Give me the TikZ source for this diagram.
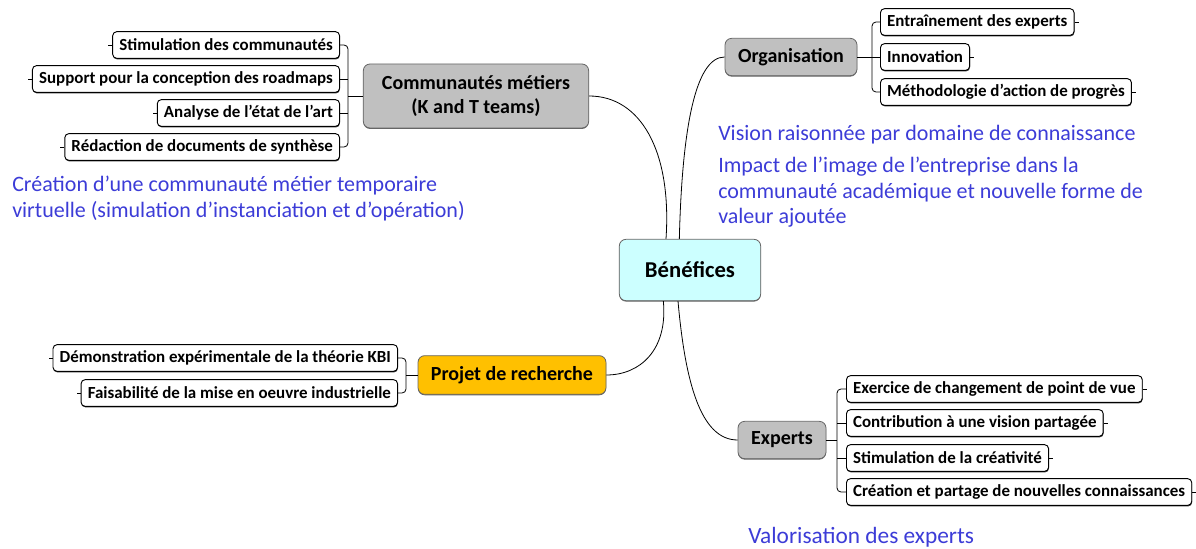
\documentclass[tikz,border=0pt]{standalone}
\usepackage{fontspec}
\setmainfont{Carlito}
\usetikzlibrary{positioning}
\usetikzlibrary{calc}
\usetikzlibrary{shadows}

\definecolor{centrefill}{RGB}{204,255,255}
\definecolor{greyfill}{RGB}{192,192,192}
\definecolor{projfill}{RGB}{255,192,0}
\definecolor{noteblue}{RGB}{60,60,215}

\begin{document}
\begin{tikzpicture}[x=0.75pt, y=-0.75pt,
  topic/.style={draw=black!60, line width=0.6pt, rounded corners=5pt, font=\bfseries\fontsize{15}{18}\selectfont, align=center, inner sep=2pt,
    drop shadow={shadow xshift=0pt, shadow yshift=-0.7pt, opacity=0.6, fill=black}},
  leaf/.style={draw, fill=white, line width=0.7pt, rounded corners=3pt, font=\bfseries\fontsize{12.7}{15}\selectfont, minimum height=20pt, inner xsep=5pt,
    drop shadow={shadow xshift=0.3pt, shadow yshift=-0.8pt, opacity=0.8, fill=black}},
  note/.style={text=noteblue, font=\fontsize{16.5}{19}\selectfont, align=left, anchor=north west, inner sep=0pt},
  link/.style={line width=0.6pt}]
        \useasboundingbox (0,0) rectangle (1196,549);

        % Central topic
        \node[topic, fill=centrefill, minimum width=106pt, minimum height=46pt, font=\bfseries\fontsize{17}{20}\selectfont] (ben) at (690,270) {Bénéfices};

        % Main branches
        \node[topic, fill=greyfill, minimum width=169pt, minimum height=48pt] (com) at (476,96) {Communautés métiers\\(K and T teams)};
        \node[topic, fill=greyfill, minimum width=99pt, minimum height=28pt] (org) at (791,57) {Organisation};
        \node[topic, fill=projfill, minimum width=141pt, minimum height=29pt] (proj) at (512,375) {Projet de recherche};
        \node[topic, fill=greyfill, minimum width=66pt, minimum height=28pt] (exp) at (782,440) {Experts};

        % Leaves of Communautés métiers
        \node[leaf, anchor=east] (com1) at (340,45) {Stimulation des communautés};
        \node[leaf, anchor=east] (com2) at (340,79) {Support pour la conception des roadmaps};
        \node[leaf, anchor=east] (com3) at (340,113) {Analyse de l'état de l'art};
        \node[leaf, anchor=east] (com4) at (340,147) {Rédaction de documents de synthèse};

        % Leaves of Organisation
        \node[leaf, anchor=west] (org1) at (880,22) {Entraînement des experts};
        \node[leaf, anchor=west] (org2) at (880,57) {Innovation};
        \node[leaf, anchor=west] (org3) at (880,92) {Méthodologie d'action de progrès};

        % Leaves of Projet de recherche
        \node[leaf, anchor=east] (proj1) at (398,358) {Démonstration expérimentale de la théorie KBI};
        \node[leaf, anchor=east] (proj2) at (398,393) {Faisabilité de la mise en oeuvre industrielle};

        % Leaves of Experts
        \node[leaf, anchor=west] (exp1) at (846,389) {Exercice de changement de point de vue};
        \node[leaf, anchor=west] (exp2) at (846,423) {Contribution à une vision partagée};
        \node[leaf, anchor=west] (exp3) at (846,458) {Stimulation de la créativité};
        \node[leaf, anchor=west] (exp4) at (846,492) {Création et partage de nouvelles connaissances};

        % Bracket junctions
        \coordinate (comj) at (348,96);
        \coordinate (orgj) at (872,57);
        \coordinate (projj) at (406,375);
        \coordinate (expj) at (837,440);

        % Curved links from the centre
        \draw[link] ([xshift=-18pt]ben.north) .. controls (672,150) and (640,96) .. (com.east);
        \draw[link] ([xshift=-8pt]ben.north) .. controls (682,130) and (695,57) .. (org.west);
        \draw[link] ([xshift=-20pt]ben.south) .. controls (668,350) and (640,375) .. (proj.east);
        \draw[link] ([xshift=-9pt]ben.south) .. controls (685,380) and (700,440) .. (exp.west);

        % Brackets
        \draw[link] (com.west) -- (comj);
        \draw[link, rounded corners=3pt] (com1.east) -| (comj) |- (com4.east);
        \draw[link] (com2.east) -- (com2.east -| comj);
        \draw[link] (com3.east) -- (com3.east -| comj);

        \draw[link] (org.east) -- (orgj);
        \draw[link, rounded corners=3pt] (org1.west) -| (orgj) |- (org3.west);
        \draw[link] (org2.west) -- (orgj);

        \draw[link] (proj.west) -- (projj);
        \draw[link, rounded corners=3pt] (proj1.east) -| (projj) |- (proj2.east);

        \draw[link] (exp.east) -- (expj);
        \draw[link, rounded corners=3pt] (exp1.west) -| (expj) |- (exp4.west);
        \draw[link] (exp2.west) -- (exp2.west -| expj);
        \draw[link] (exp3.west) -- (exp3.west -| expj);

        % Small ticks on the free side of the leaves
        \foreach \n in {com1,com2,com3,com4,proj1,proj2}
          \draw[link] (\n.west) -- ++(-4,0);
        \foreach \n in {org1,org2,org3,exp1,exp2,exp3,exp4}
          \draw[link] (\n.east) -- ++(4,0);

        % Notes
        \node[note] (comnote) at (12,176) {Création d’une communauté métier temporaire\\virtuelle (simulation d’instanciation et d’opération)};
        \node[note] (orgnote1) at (718,125) {Vision raisonnée par domaine de connaissance};
        \node[note] (orgnote2) at (718,157) {Impact de l’image de l’entreprise dans la\\communauté académique et nouvelle forme de\\valeur ajoutée};
        \node[note, font=\fontsize{17.5}{20}\selectfont] (expnote) at (748,527) {Valorisation des experts};
      \end{tikzpicture}
\end{document}
